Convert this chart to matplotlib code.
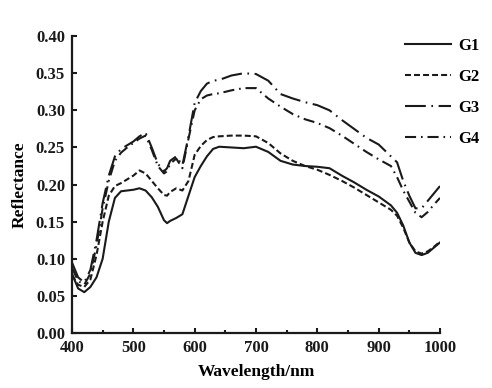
import matplotlib
matplotlib.use("Agg")
import matplotlib.pyplot as plt

plt.rcParams['font.family'] = ['Liberation Serif', 'DejaVu Serif']
plt.rcParams['font.weight'] = 'bold'
plt.rcParams['lines.scale_dashes'] = False

# datos
wl = [400, 410, 420, 430, 440, 450, 460, 470, 480, 490, 500, 510, 520, 530, 540,
      550, 555, 560, 570, 580, 590, 600, 610, 620, 630, 640, 660, 680, 700, 720,
      740, 760, 780, 800, 820, 840, 860, 880, 900, 920, 930, 940, 950, 960, 970,
      980, 990, 1000]

g1 = [0.080, 0.060, 0.055, 0.062, 0.075, 0.100, 0.150, 0.182, 0.191, 0.192, 0.193,
      0.195, 0.192, 0.183, 0.170, 0.152, 0.148, 0.151, 0.155, 0.160, 0.185, 0.210,
      0.225, 0.238, 0.248, 0.251, 0.250, 0.249, 0.251, 0.244, 0.232, 0.227, 0.225,
      0.224, 0.222, 0.212, 0.203, 0.193, 0.184, 0.172, 0.162, 0.145, 0.122, 0.108,
      0.105, 0.108, 0.115, 0.122]

g2 = [0.078, 0.065, 0.062, 0.072, 0.105, 0.150, 0.185, 0.198, 0.202, 0.207, 0.212,
      0.219, 0.215, 0.205, 0.195, 0.186, 0.185, 0.190, 0.195, 0.192, 0.205, 0.240,
      0.252, 0.260, 0.264, 0.265, 0.266, 0.266, 0.265, 0.256, 0.242, 0.232, 0.225,
      0.220, 0.213, 0.205, 0.196, 0.186, 0.176, 0.166, 0.158, 0.142, 0.122, 0.110,
      0.107, 0.110, 0.116, 0.123]

g3 = [0.095, 0.075, 0.068, 0.085, 0.125, 0.175, 0.212, 0.238, 0.248, 0.253, 0.258,
      0.265, 0.270, 0.250, 0.228, 0.218, 0.222, 0.232, 0.238, 0.226, 0.265, 0.310,
      0.326, 0.336, 0.340, 0.341, 0.347, 0.350, 0.349, 0.340, 0.322, 0.316, 0.311,
      0.307, 0.300, 0.287, 0.275, 0.263, 0.254, 0.238, 0.230, 0.205, 0.185, 0.168,
      0.168, 0.178, 0.188, 0.198]

g4 = [0.088, 0.070, 0.065, 0.080, 0.118, 0.168, 0.205, 0.232, 0.243, 0.250, 0.256,
      0.262, 0.266, 0.247, 0.225, 0.215, 0.218, 0.228, 0.235, 0.222, 0.262, 0.300,
      0.315, 0.320, 0.322, 0.323, 0.327, 0.330, 0.330, 0.316, 0.305, 0.295, 0.288,
      0.283, 0.276, 0.266, 0.255, 0.244, 0.234, 0.225, 0.210, 0.192, 0.177, 0.162,
      0.156, 0.163, 0.173, 0.182]

etiquetas = ['G1', 'G2', 'G3', 'G4']
estilos = ['-', (0, (4.3, 2.2)), (0, (15, 4, 1.2, 4)), (0, (8, 3.5, 1.2, 3.5))]

fig = plt.figure(figsize=(4.92, 3.88), dpi=100)
ax = fig.add_axes([0.1463, 0.1418, 0.748, 0.765])

for y, lab, ls in zip([g1, g2, g3, g4], etiquetas, estilos):
    ax.plot(wl, y, color='#1a1a1a', lw=1.5, linestyle=ls, label=lab)

ax.set_xlim(400, 1000)
ax.set_ylim(0, 0.40)
ax.set_xticks([400, 500, 600, 700, 800, 900, 1000])
ax.set_xticks([450, 550, 650, 750, 850, 950], minor=True)
ax.set_yticks([0.00, 0.05, 0.10, 0.15, 0.20, 0.25, 0.30, 0.35, 0.40])
ax.set_yticklabels(['0.00', '0.05', '0.10', '0.15', '0.20', '0.25', '0.30', '0.35', '0.40'])

for s in ['top', 'right']:
    ax.spines[s].set_visible(False)
for s in ['left', 'bottom']:
    ax.spines[s].set_linewidth(1.6)
    ax.spines[s].set_color('#1a1a1a')

ax.tick_params(which='major', direction='in', length=3.5, width=1.5,
               labelsize=12, colors='#1a1a1a', pad=5)
ax.tick_params(which='minor', direction='in', length=2.5, width=1.5, colors='#1a1a1a')

ax.set_xlabel('Wavelength/nm', fontsize=12.5, fontweight='bold', labelpad=6)
ax.set_ylabel('Reflectance', fontsize=12.5, fontweight='bold', labelpad=6)

fig.legend(loc='upper left', bbox_to_anchor=(0.823, 0.903), frameon=False,
           fontsize=12, handlelength=2.75, handletextpad=0.45,
           labelspacing=0.9, borderpad=0, borderaxespad=0)

fig.savefig('out.png', dpi=100)
